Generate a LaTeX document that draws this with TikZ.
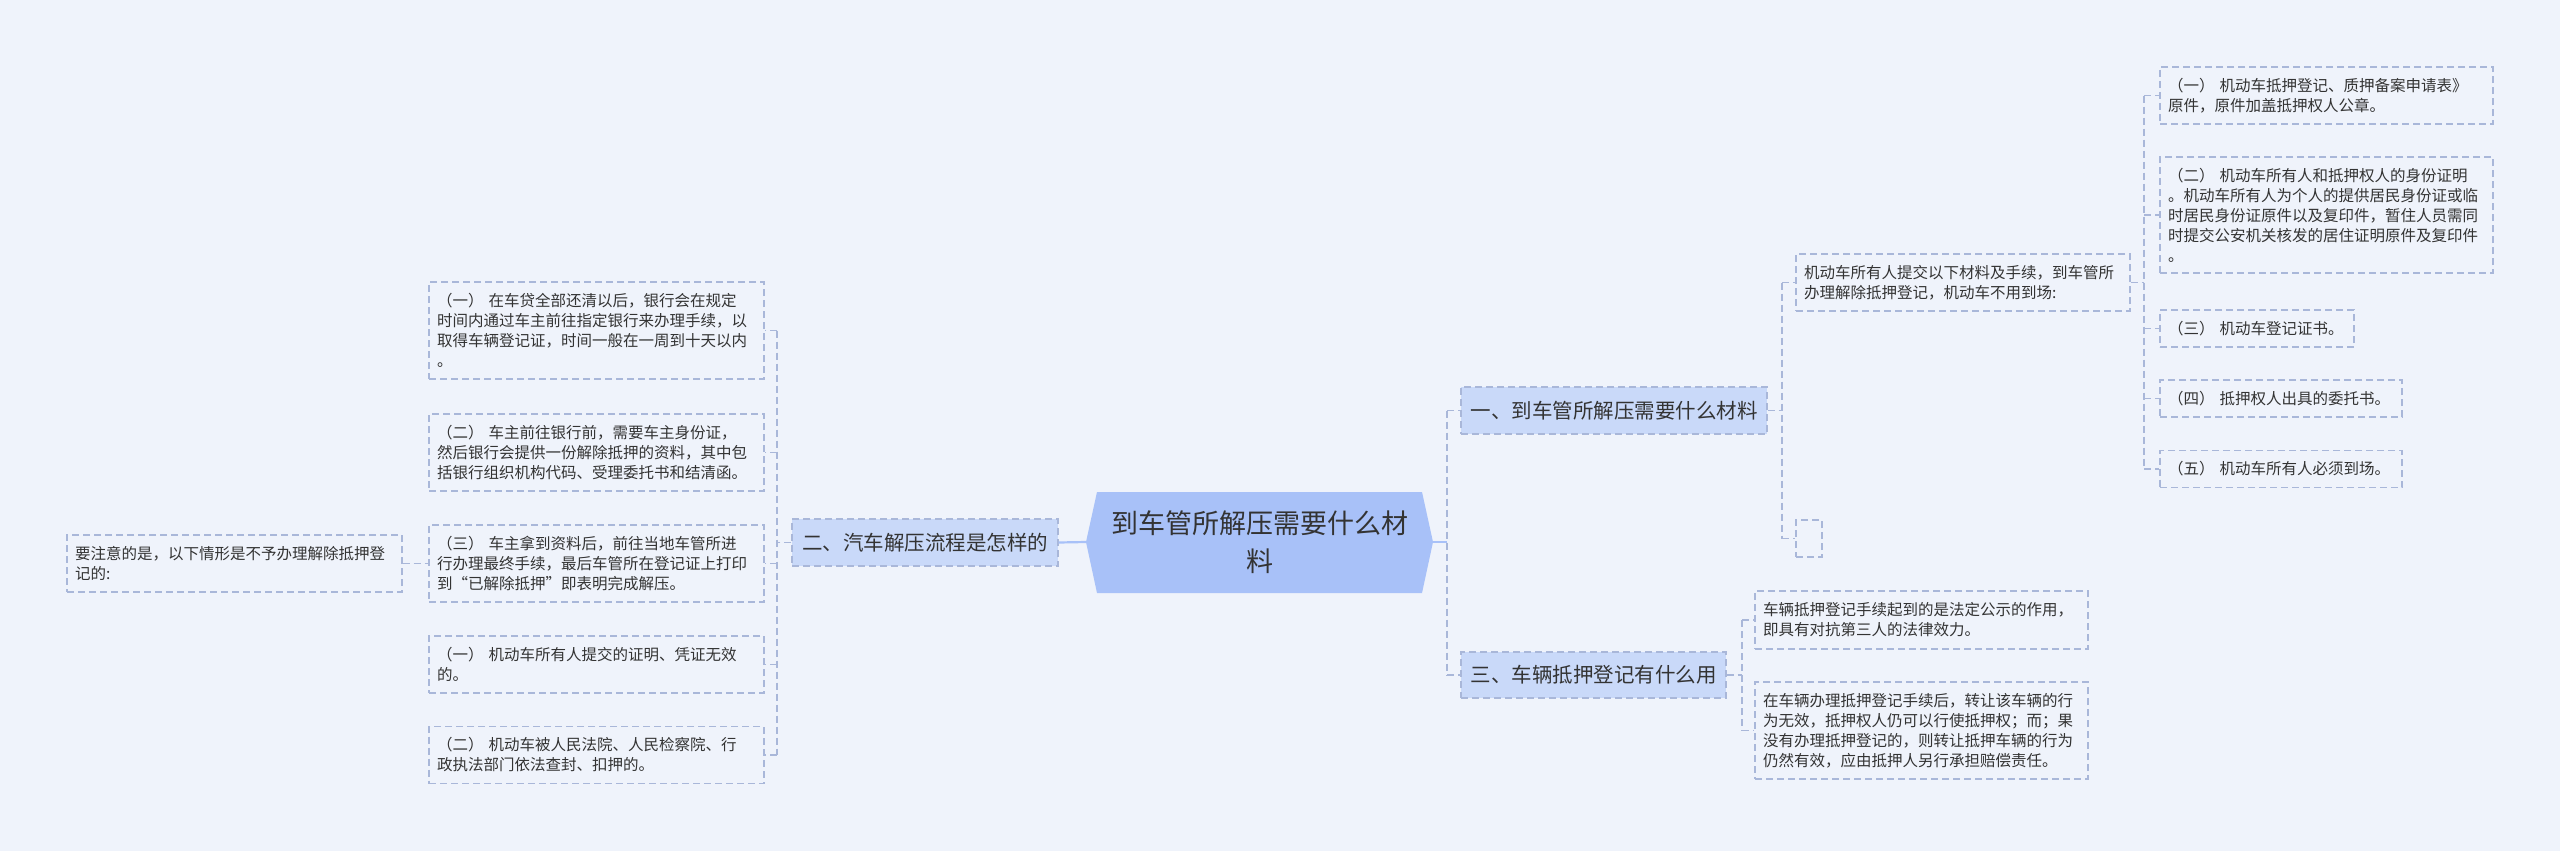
\documentclass[tikz,border=0pt]{standalone}
\usepackage{fontspec}
\setmainfont{Noto Sans CJK SC}
\definecolor{bgC}{HTML}{EFF3FB}
\definecolor{lineC}{HTML}{A9B7D9}
\definecolor{branchC}{HTML}{C9D9F9}
\definecolor{rootC}{HTML}{A8C1F8}
\definecolor{txt}{HTML}{333333}
\tikzset{
  conn/.style={draw=lineC, line width=1.3pt, dash pattern=on 7pt off 4pt},
  solidconn/.style={draw=rootC, line width=2.2pt},
  leaf/.style={draw=lineC, line width=1.3pt, dash pattern=on 7pt off 4pt, rectangle,
    inner xsep=8pt, inner ysep=0pt, font=\fontsize{15.5}{20}\selectfont, text=txt,
    align=left, anchor=center},
  branch/.style={leaf, fill=branchC, align=center, font=\fontsize{20.5}{26}\selectfont},
}
\begin{document}
\begin{tikzpicture}[x=1pt,y=-1pt]
\fill[bgC] (0,0) rectangle (2560,851);
\useasboundingbox (0,0) rectangle (2560,851);

% root
\fill[rootC] (1086,542) -- (1097,492) -- (1422,492) -- (1433,542) -- (1422,593) -- (1097,593) -- cycle;
\coordinate (rootL) at (1086,542);
\coordinate (rootR) at (1433,542);
\node[font=\fontsize{27}{38}\selectfont, align=center, text=txt] (root) at (1259.5,542) {到车管所解压需要什么材\\料};

% branches
\node[branch, minimum width=306pt, minimum height=47pt] (B1) at (1614,410.5) {一、到车管所解压需要什么材料};
\node[branch, minimum width=266pt, minimum height=47pt] (B2) at (925,542.5) {二、汽车解压流程是怎样的};
\node[branch, minimum width=265pt, minimum height=46pt] (B3) at (1593.5,675) {三、车辆抵押登记有什么用};

% left leaves
\node[leaf, text width=319pt, minimum height=97pt] (L1) at (596.5,330.5) {（一） 在车贷全部还清以后，银行会在规定\\时间内通过车主前往指定银行来办理手续，以\\取得车辆登记证，时间一般在一周到十天以内\\。};
\node[leaf, text width=319pt, minimum height=77pt] (L2) at (596.5,452.5) {（二） 车主前往银行前，需要车主身份证，\\然后银行会提供一份解除抵押的资料，其中包\\括银行组织机构代码、受理委托书和结清函。};
\node[leaf, text width=319pt, minimum height=77pt] (L3) at (596.5,563.5) {（三） 车主拿到资料后，前往当地车管所进\\行办理最终手续，最后车管所在登记证上打印\\到“已解除抵押”即表明完成解压。};
\node[leaf, text width=319pt, minimum height=57pt] (L4) at (596.5,664.5) {（一） 机动车所有人提交的证明、凭证无效\\的。};
\node[leaf, text width=319pt, minimum height=57pt] (L5) at (596.5,755) {（二） 机动车被人民法院、人民检察院、行\\政执法部门依法查封、扣押的。};
\node[leaf, text width=319pt, minimum height=57pt] (N) at (234.5,563.5) {要注意的是，以下情形是不予办理解除抵押登\\记的:};

% right side, branch 1
\node[leaf, text width=318pt, minimum height=57pt] (C1) at (1963,282.5) {机动车所有人提交以下材料及手续，到车管所\\办理解除抵押登记，机动车不用到场:};
\node[leaf, minimum width=26pt, minimum height=37pt, inner xsep=0pt] (E) at (1809,538.5) {};
\node[leaf, text width=317pt, minimum height=57pt] (R1) at (2326.5,95.5) {（一） 机动车抵押登记、质押备案申请表》\\原件，原件加盖抵押权人公章。};
\node[leaf, text width=317pt, minimum height=116pt] (R2) at (2326.5,215) {（二） 机动车所有人和抵押权人的身份证明\\。机动车所有人为个人的提供居民身份证或临\\时居民身份证原件以及复印件，暂住人员需同\\时提交公安机关核发的居住证明原件及复印件\\。};
\node[leaf, text width=178pt, minimum height=37pt] (R3) at (2257,328.5) {（三） 机动车登记证书。};
\node[leaf, text width=226pt, minimum height=37pt] (R4) at (2281,398.5) {（四） 抵押权人出具的委托书。};
\node[leaf, text width=226pt, minimum height=37pt] (R5) at (2281,469) {（五） 机动车所有人必须到场。};

% branch 3 children
\node[leaf, text width=317pt, minimum height=58pt] (D1) at (1921.5,620) {车辆抵押登记手续起到的是法定公示的作用，\\即具有对抗第三人的法律效力。};
\node[leaf, text width=317pt, minimum height=97pt] (D2) at (1921.5,730.5) {在车辆办理抵押登记手续后，转让该车辆的行\\为无效，抵押权人仍可以行使抵押权；而；果\\没有办理抵押登记的，则转让抵押车辆的行为\\仍然有效，应由抵押人另行承担赔偿责任。};

% spine coordinates
\coordinate (sL) at (777,0);
\coordinate (sR) at (1447,0);
\coordinate (s1) at (1782,0);
\coordinate (s2) at (2144,0);
\coordinate (s3) at (1742,0);

% connectors: root to branches
\draw[solidconn] (rootL) -- (B2.east);
\draw[solidconn] (rootR) -- (rootR -| sR);
\draw[conn] (B1.west -| sR) -- (B3.west -| sR);
\draw[conn] (B1.west -| sR) -- (B1.west);
\draw[conn] (B3.west -| sR) -- (B3.west);

% left
\draw[conn] (B2.west) -- (B2.west -| sL);
\draw[conn] (L1.east -| sL) -- (L5.east -| sL);
\foreach \n in {L1,L2,L3,L4,L5} {\draw[conn] (\n.east -| sL) -- (\n.east);}
\draw[conn] (N.east) -- (L3.west);

% branch 1
\draw[conn] (B1.east) -- (B1.east -| s1);
\draw[conn] (C1.west -| s1) -- (E.west -| s1);
\draw[conn] (C1.west -| s1) -- (C1.west);
\draw[conn] (E.west -| s1) -- (E.west);

% child 1 items
\draw[conn] (C1.east) -- (C1.east -| s2);
\draw[conn] (R1.west -| s2) -- (R5.west -| s2);
\foreach \n in {R1,R2,R3,R4,R5} {\draw[conn] (\n.west -| s2) -- (\n.west);}

% branch 3
\draw[conn] (B3.east) -- (B3.east -| s3);
\draw[conn] (D1.west -| s3) -- (D2.west -| s3);
\draw[conn] (D1.west -| s3) -- (D1.west);
\draw[conn] (D2.west -| s3) -- (D2.west);
\end{tikzpicture}
\end{document}
